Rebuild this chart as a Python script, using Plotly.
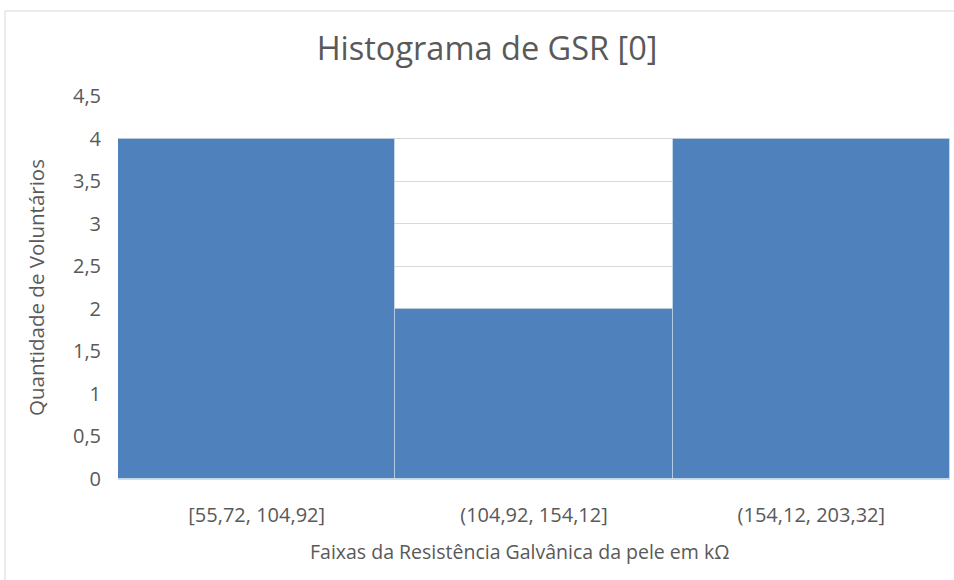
import plotly.graph_objects as go

categories = ["[55,72, 104,92]", "(104,92, 154,12]", "(154,12, 203,32]"]
counts = [4, 2, 4]
y_tickvals = [0, 0.5, 1, 1.5, 2, 2.5, 3, 3.5, 4, 4.5]
y_ticktext = ["0", "0,5", "1", "1,5", "2", "2,5", "3", "3,5", "4", "4,5"]

W, H = 954, 580
L, R, T, B = 118, 4, 96, 101
pw, ph = W - L - R, H - T - B

def px_x(p):
    return (p - L) / pw

def px_y(p):
    return (H - B - p) / ph

font_family = "'Open Sans', sans-serif"
grey = "#595959"

fig = go.Figure()
fig.add_trace(go.Bar(
    x=categories, y=counts,
    marker=dict(color="#4F81BD", line=dict(color="rgba(255,255,255,0.35)", width=1)),
    width=1.0,
    hoverinfo="x+y",
))

fig.update_layout(
    width=W, height=H,
    margin=dict(l=L, r=R, t=T, b=B),
    paper_bgcolor="white", plot_bgcolor="white",
    bargap=0,
    showlegend=False,
    title=dict(text="Histograma de GSR [0]", x=487 / W, xref="container", xanchor="center",
               y=1 - 49 / H, yanchor="middle",
               font=dict(family=font_family, size=32.5, color=grey)),
    font=dict(family=font_family, color=grey),
    xaxis=dict(
        showgrid=False, showline=True, linecolor="#D9D9D9", linewidth=1,
        ticks="", tickfont=dict(size=20, color=grey), ticklabelstandoff=18,
        range=[-0.5, 2.5],
    ),
    yaxis=dict(
        range=[0, 4.5], tickvals=y_tickvals, ticktext=y_ticktext,
        showgrid=True, gridcolor="#D9D9D9", gridwidth=1, zeroline=False,
        showline=False, ticks="", ticklabelstandoff=16,
        tickfont=dict(size=20, color=grey),
        title=dict(text="Quantidade de Voluntários", standoff=22, font=dict(size=20.5, color=grey)),
    ),
    annotations=[dict(
        text="Faixas da Resistência Galvânica da pele em kΩ",
        xref="paper", yref="paper", x=px_x(519), y=px_y(551),
        xanchor="center", yanchor="middle", showarrow=False,
        font=dict(family=font_family, size=19.5, color=grey),
    )],
    shapes=[dict(
        type="rect", xref="paper", yref="paper",
        x0=px_x(5), x1=px_x(970), y0=px_y(600), y1=px_y(11),
        line=dict(color="#D9D9D9", width=1), fillcolor="rgba(0,0,0,0)", layer="below",
    )],
)

fig.write_html("out.html", config={"displayModeBar": False},
               post_script="document.body.style.margin='0';document.body.style.overflow='hidden';")
